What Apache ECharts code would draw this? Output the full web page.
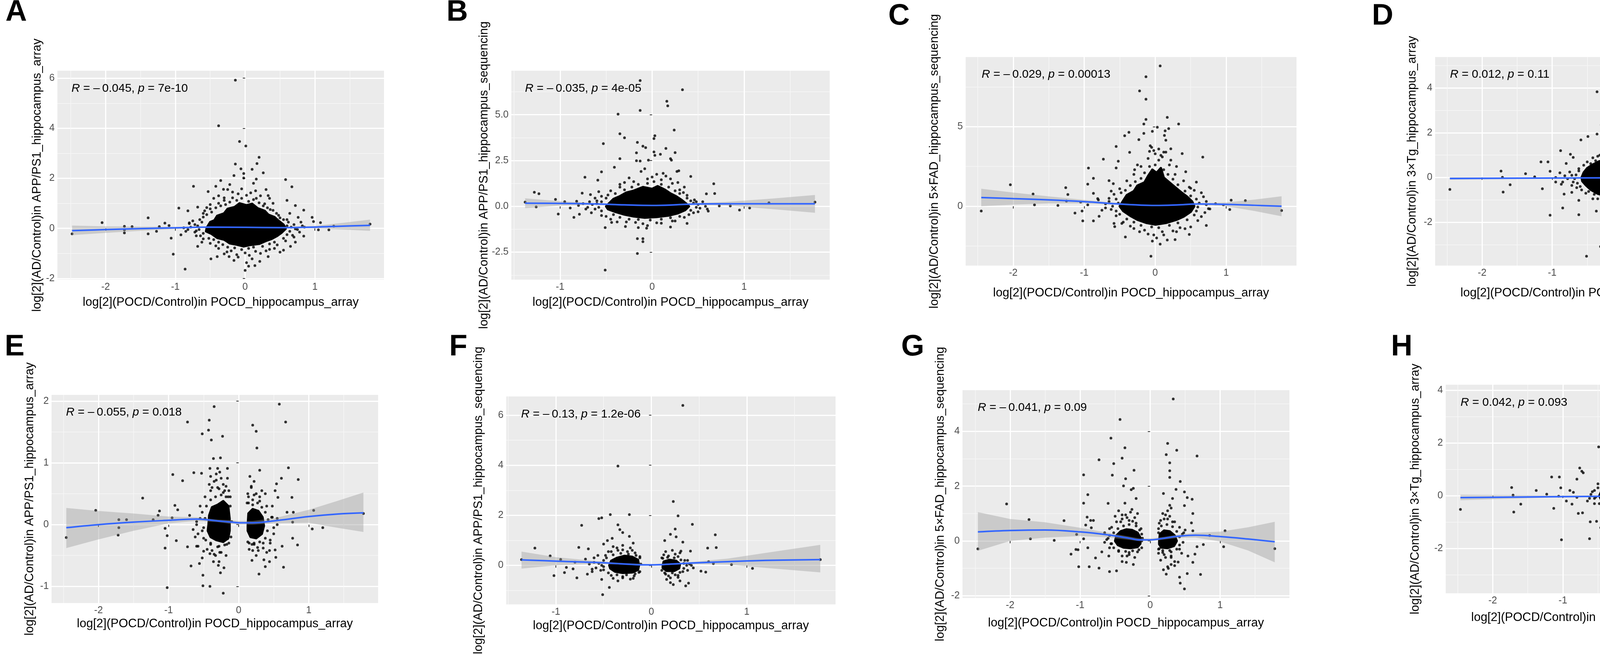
<!DOCTYPE html>
<html>
<head>
<meta charset="utf-8">
<script src="https://cdn.jsdelivr.net/npm/echarts@6/dist/echarts.min.js"></script>
<style>
  html, body { margin: 0; padding: 0; background: #fff; }
  #chart { width: 4550px; height: 1677px; }
</style>
</head>
<body>
<div id="chart"></div>
<script>
// ---- labels ----
const panelLetters = ['A', 'B', 'C', 'D', 'E', 'F', 'G', 'H']
const xTitle = 'log[2](POCD/Control)in POCD_hippocampus_array'
const yTitles = [
  'log[2](AD/Control)in APP/PS1_hippocampus_array',
  'log[2](AD/Control)in APP/PS1_hippocampus_sequencing',
  'log[2](AD/Control)in 5×FAD_hippocampus_sequencing',
  'log[2](AD/Control)in 3×Tg_hippocampus_array',
  'log[2](AD/Control)in APP/PS1_hippocampus_array',
  'log[2](AD/Control)in APP/PS1_hippocampus_sequencing',
  'log[2](AD/Control)in 5×FAD_hippocampus_sequencing',
  'log[2](AD/Control)in 3×Tg_hippocampus_array'
]
const statR = ['\u2013\u20090.045', '\u2013\u20090.035', '\u2013\u20090.029', '0.012', '\u2013\u20090.055', '\u2013\u20090.13', '\u2013\u20090.041', '0.042']
const statP = ['7e-10', '4e-05', '0.00013', '0.11', '0.018', '1.2e-06', '0.09', '0.093']

// ---- tick values ----
const xTicksWide = [-2, -1, 0, 1]
const xMinorWide = [-2.5, -1.5, -0.5, 0.5, 1.5]
const xTicksNarrow = [-1, 0, 1]
const xMinorNarrow = [-1.5, -0.5, 0.5, 1.5]
const yTicksA = [-2, 0, 2, 4, 6]
const yMinorA = [-1, 1, 3, 5]
const yTicksB = [-2.5, 0, 2.5, 5]
const yMinorB = [-3.75, -1.25, 1.25, 3.75, 6.25]
const yTicksC = [0, 5]
const yMinorC = [-2.5, 2.5, 7.5]
const yTicksD = [-2, 0, 2, 4]
const yMinorD = [-3, -1, 1, 3, 5]
const yTicksE = [-1, 0, 1, 2]
const yMinorE = [-0.5, 0.5, 1.5]
const yTicksF = [0, 2, 4, 6]
const yMinorF = [-1, 1, 3, 5]
const yTicksG = [-2, 0, 2, 4]
const yMinorG = [-1, 1, 3, 5]
const yTicksH = [-2, 0, 2, 4]
const yMinorH = [-3, -1, 1, 3]

// ---- A ----
const pointsA = [
  [-0.14, 5.92], [-0.38, 4.10], [-0.08, 3.47], [0.01, 3.29], [0.20, 2.84], [-0.14, 2.57], [0.17, 2.59], [-0.06, 2.38],
  [0.10, 2.36], [0.26, 2.22], [-0.16, 2.11], [-0.02, 2.19], [-0.02, 2.01], [0.58, 1.95], [-0.35, 1.91], [0.16, 1.97],
  [0.67, 1.66], [-0.74, 1.68], [-0.42, 1.68], [-0.53, 1.47], [-0.31, 1.56], [0.33, 1.31], [0.60, 1.12], [0.72, 0.91],
  [-0.95, 0.81], [-0.82, 0.70], [-0.68, 0.85], [-0.55, 0.83], [0.84, 0.73], [0.64, 0.60], [0.76, 0.44], [-1.39, 0.42],
  [0.96, 0.44], [-2.05, 0.23], [-1.15, 0.21], [-1.09, 0.11], [-1.23, 0.07], [1.08, 0.23], [0.98, 0.27], [1.27, 0.09],
  [1.79, 0.17], [-1.73, 0.08], [-1.62, 0.07], [-1.73, -0.18], [-1.73, -0.06], [-2.48, -0.22], [-1.39, -0.22], [-1.27, -0.12],
  [-1.06, -0.39], [1.05, -0.06], [1.20, -0.06], [0.84, -0.31], [-1.03, -1.03], [-0.86, -1.63], [-0.49, -1.22], [-0.68, -0.72],
  [0.65, -0.72], [0.55, -0.87], [0.33, -1.13], [0.21, -1.32], [0.05, -1.51], [0.14, -1.49], [0.00, -1.68], [0.02, -1.37],
  [-0.16, -1.28], [-0.40, -1.13], [-0.23, -1.13], [-0.92, -0.26], [-0.88, 0.02], [-0.80, 0.19], [0.72, -0.55],
  [-0.72, 0.15], [-0.70, -0.10], [-0.65, 0.35], [-0.60, 0.60], [-0.50, 0.78], [-0.38, 1.00], [-0.30, 1.22], [-0.18, 1.45],
  [-0.05, 1.58], [0.08, 1.42], [0.16, 1.20], [0.28, 0.98], [0.36, 0.75], [0.48, 0.52], [0.60, 0.35], [0.70, 0.15],
  [0.75, -0.05], [0.68, -0.28], [0.58, -0.50], [0.46, -0.66], [0.35, -0.84], [0.22, -1.00], [0.06, -1.08], [-0.12, -1.05],
  [-0.26, -0.94], [-0.38, -0.80], [-0.50, -0.60], [-0.60, -0.42], [-0.70, -0.30], [-0.78, 0.05], [-0.45, 1.20], [0.30, 1.55],
  [-0.22, 1.75], [0.12, 1.80], [-0.62, -0.55], [0.50, -0.95], [-0.30, -1.02], [0.82, 0.10], [-0.85, -0.12], [0.10, -1.22]
]
const haloA = [
  [-0.42, 0.82], [-0.35, 0.90], [-0.28, 0.95], [-0.22, 1.05], [-0.30, 1.12], [-0.12, 1.12], [-0.18, 1.22], [-0.05, 1.20],
  [0.05, 1.08], [0.12, 1.15], [0.20, 1.02], [0.26, 0.90], [0.32, 0.82], [0.02, 1.32], [-0.10, 1.38], [0.22, 1.30],
  [-0.38, 1.30], [0.40, 1.00], [-0.50, 0.95], [0.15, 1.50], [-0.25, 1.55], [0.35, 1.20],
  [-0.60, 0.45], [-0.55, 0.55], [-0.62, 0.25], [-0.68, 0.10], [-0.66, -0.05], [-0.60, -0.20], [-0.64, -0.30], [-0.75, 0.30],
  [-0.80, 0.22], [-0.72, -0.15], [-0.82, -0.05], [-0.58, 0.70], [-0.48, 0.65],
  [0.50, 0.42], [0.55, 0.35], [0.62, 0.25], [0.60, 0.10], [0.66, 0.05], [0.72, -0.02], [0.64, -0.12], [0.60, -0.25],
  [0.55, -0.40], [0.70, -0.35], [0.80, 0.25], [0.78, -0.15], [0.45, 0.60], [0.40, 0.72], [0.85, 0.05],
  [-0.45, -0.45], [-0.38, -0.55], [-0.32, -0.65], [-0.25, -0.75], [-0.15, -0.78], [-0.05, -0.85], [0.05, -0.80], [0.12, -0.75],
  [0.25, -0.72], [0.35, -0.62], [0.42, -0.55], [-0.20, -0.90], [0.00, -0.98], [0.15, -0.92], [0.30, -0.90], [-0.42, -0.70],
  [-0.10, -1.15], [0.42, -0.80], [-0.52, -0.40]
]
const coreA = [[
  [-0.55, 0.02], [-0.5, 0.25], [-0.44, 0.32], [-0.4, 0.5], [-0.3, 0.6], [-0.25, 0.78], [-0.15, 0.85], [-0.08, 1.0], [0.02, 0.92],
  [0.1, 0.98], [0.18, 0.8], [0.28, 0.7], [0.33, 0.55], [0.42, 0.45], [0.48, 0.3], [0.55, 0.15], [0.58, -0.02], [0.52, -0.18],
  [0.46, -0.3], [0.38, -0.42], [0.3, -0.5], [0.2, -0.62], [0.08, -0.66], [-0.02, -0.72], [-0.12, -0.65], [-0.22, -0.6],
  [-0.3, -0.45], [-0.4, -0.38], [-0.48, -0.22], [-0.56, -0.12]
]]
const fitA = [[-2.48, -0.09], [-2.0, -0.05], [-1.5, -0.01], [-1.0, 0.02], [-0.5, 0.05], [0, 0.04], [0.5, 0.03], [1.0, 0.05], [1.4, 0.09], [1.79, 0.12]]
const ciA = [[-2.48, -0.27, 0.11], [-2.0, -0.18, 0.08], [-1.5, -0.1, 0.07], [-1.0, -0.02, 0.06], [-0.5, 0.03, 0.07], [0, 0.02, 0.06],
  [0.5, 0.01, 0.05], [1.0, 0.0, 0.1], [1.4, -0.05, 0.22], [1.79, -0.1, 0.35]]

// ---- B ----
const pointsB = [
  [-0.13, 6.86], [0.33, 6.36], [0.16, 5.73], [0.17, 5.48], [-0.13, 5.23], [-0.37, 5.03], [0.24, 4.16], [-0.35, 3.96],
  [-0.30, 3.74], [0.03, 3.85], [0.02, 3.70], [-0.53, 3.42], [-0.16, 3.49], [-0.10, 3.28], [-0.07, 3.20], [0.15, 3.16],
  [0.02, 2.97], [0.25, 2.93], [-0.17, 2.92], [-0.35, 2.60], [0.20, 2.60], [-0.04, 2.52], [-0.17, 2.49], [-0.13, 2.47],
  [0.09, 2.84], [0.03, 2.78], [0.21, 2.52], [-0.41, 2.13], [-0.55, 1.88], [0.29, 1.94], [0.27, 1.90], [0.42, 1.63],
  [-0.73, 1.59], [-0.59, 1.43], [0.67, 1.23], [-1.28, 0.77], [-1.23, 0.69], [0.59, 0.68], [0.68, 0.70], [-0.76, 0.72],
  [-0.67, 0.64], [-1.05, 0.38], [-1.38, 0.23], [1.77, 0.23], [1.27, 0.19], [-0.95, 0.25], [-0.82, 0.28], [-1.26, -0.03],
  [-1.02, -0.42], [-0.89, -0.09], [-0.85, -0.60], [-0.79, -0.43], [0.85, 0.02], [0.95, -0.20], [1.06, -0.09], [0.73, 0.02],
  [0.61, -0.26], [0.48, 0.25], [-0.51, -1.16], [-0.44, -0.88], [-0.15, -1.16], [-0.06, -1.19], [0.20, -1.13], [-0.29, -1.10],
  [-0.16, -1.76], [-0.10, -1.76], [-0.10, -1.93], [-0.16, -2.57], [-0.51, -3.48], [0.38, -0.93],
  [-0.65, 0.10], [-0.62, -0.15], [-0.60, 0.30], [-0.55, 0.55], [-0.45, 0.85], [-0.35, 1.05], [-0.20, 1.35], [-0.05, 1.50],
  [0.10, 1.45], [0.22, 1.25], [0.30, 0.90], [0.38, 0.60], [0.46, 0.35], [0.50, 0.10], [0.52, -0.10], [0.45, -0.35],
  [0.35, -0.60], [0.25, -0.80], [0.10, -0.92], [-0.10, -0.95], [-0.28, -0.85], [-0.45, -0.70], [-0.55, -0.50], [-0.70, -0.05],
  [-0.75, 0.15], [-0.30, 1.30], [0.05, 1.75], [-0.12, 1.90], [0.15, 1.65], [-0.58, 0.80]
]
const haloB = [
  [-0.30, 0.90], [-0.22, 1.05], [-0.15, 1.20], [-0.05, 1.25], [0.02, 1.35], [0.10, 1.20], [0.18, 1.05], [0.25, 0.85],
  [0.30, 0.70], [-0.40, 0.70], [-0.35, 1.20], [0.00, 1.60], [0.12, 1.80], [-0.08, 2.05], [0.28, 1.30], [-0.25, 1.55],
  [0.20, 1.50], [0.35, 1.05],
  [-0.55, 0.25], [-0.60, 0.15], [-0.58, -0.05], [-0.55, -0.25], [-0.68, 0.25], [-0.72, -0.15], [-0.50, 0.45], [-0.62, 0.45],
  [-0.80, 0.05], [-0.66, -0.35], [-0.48, 0.62],
  [0.42, 0.30], [0.45, 0.18], [0.48, -0.05], [0.42, -0.22], [0.38, 0.45], [0.55, 0.25], [0.58, 0.00], [0.50, -0.30],
  [0.40, -0.45], [0.60, -0.15], [0.34, 0.75],
  [-0.42, -0.45], [-0.35, -0.60], [-0.25, -0.70], [-0.15, -0.72], [-0.02, -0.75], [0.10, -0.70], [0.20, -0.62], [0.30, -0.55],
  [-0.50, -0.55], [-0.18, -0.88], [0.05, -0.90], [0.22, -0.80], [-0.38, -0.85], [-0.05, -1.05]
]
const coreB = [[
  [-0.5, 0.0], [-0.46, 0.2], [-0.42, 0.4], [-0.35, 0.55], [-0.28, 0.75], [-0.2, 0.85], [-0.1, 1.05], [0.0, 0.95], [0.06, 1.1],
  [0.14, 0.9], [0.2, 0.7], [0.26, 0.55], [0.32, 0.35], [0.37, 0.15], [0.4, 0.0], [0.36, -0.2], [0.28, -0.38], [0.18, -0.5],
  [0.05, -0.58], [-0.08, -0.62], [-0.2, -0.55], [-0.3, -0.45], [-0.4, -0.3], [-0.48, -0.15]
]]
const fitB = [[-1.38, 0.17], [-1.0, 0.16], [-0.6, 0.13], [-0.3, 0.08], [0, 0.05], [0.2, 0.07], [0.4, 0.12], [0.8, 0.14], [1.3, 0.14], [1.77, 0.14]]
const ciB = [[-1.38, -0.1, 0.44], [-1.0, 0.04, 0.28], [-0.6, 0.09, 0.17], [-0.3, 0.05, 0.11], [0, 0.02, 0.08], [0.2, 0.04, 0.1],
  [0.4, 0.08, 0.16], [0.8, 0.05, 0.24], [1.3, -0.15, 0.42], [1.77, -0.35, 0.62]]

// ---- C ----
const pointsC = [
  [0.07, 8.82], [-0.13, 8.14], [-0.22, 7.25], [-0.13, 6.73], [0.17, 5.59], [-0.13, 5.46], [0.33, 5.17], [-0.16, 5.17],
  [0.03, 4.97], [0.19, 4.88], [0.14, 4.74], [-0.37, 4.65], [-0.16, 4.58], [-0.04, 4.71], [-0.43, 4.43], [0.13, 4.45],
  [-0.23, 4.19], [0.15, 4.15], [-0.55, 3.76], [-0.07, 3.80], [0.22, 3.61], [-0.36, 3.39], [0.38, 3.31], [0.67, 3.09],
  [-0.73, 2.96], [-0.52, 2.83], [-0.94, 2.40], [-0.55, 2.41], [0.43, 2.17], [-0.29, 2.30], [-0.87, 1.76], [-0.95, 1.39],
  [-0.65, 1.61], [-0.59, 1.42], [-2.04, 1.35], [0.58, 1.52], [0.50, 1.13], [-1.26, 1.17], [-1.72, 0.77], [-1.23, 0.74],
  [-0.87, 0.81], [-0.81, 0.48], [-1.25, 0.33], [-1.05, 0.26], [-0.95, 0.09], [-1.70, 0.09], [-1.37, 0.05], [-2.45, -0.30],
  [1.07, 0.38], [1.27, 0.35], [0.85, 0.16], [0.96, 0.09], [1.05, -0.21], [1.78, -0.27], [0.77, -0.17], [-1.13, -0.43],
  [-1.03, -0.30], [-1.02, -0.92], [-0.87, -0.92], [-0.79, -0.63], [-0.58, -1.08], [-0.47, -1.08], [-0.57, -1.28], [0.72, -1.21],
  [0.42, -1.41], [0.48, -1.77], [-0.42, -1.93], [-0.22, -1.60], [-0.04, -2.19], [0.07, -2.38], [0.17, -2.12], [0.28, -2.10],
  [0.02, -1.99], [-0.06, -3.14],
  [-0.65, 0.30], [-0.62, -0.20], [-0.58, 0.75], [-0.50, 1.10], [-0.40, 1.60], [-0.30, 2.00], [-0.20, 2.50], [-0.10, 3.00],
  [0.00, 3.30], [0.10, 3.10], [0.20, 2.60], [0.28, 2.00], [0.40, 1.60], [0.55, 1.00], [0.68, 0.60], [0.72, 0.10],
  [0.70, -0.40], [0.60, -0.90], [0.50, -1.30], [0.30, -1.60], [0.12, -1.80], [-0.10, -1.75], [-0.30, -1.40], [-0.45, -1.00],
  [-0.55, -0.60], [-0.70, -0.10], [0.05, 3.60], [-0.02, 3.50], [-0.08, 3.45], [0.12, 3.40]
]
const haloC = [
  [-0.20, 1.75], [-0.15, 2.10], [-0.08, 2.50], [0.00, 2.60], [0.05, 2.90], [0.12, 2.30], [0.18, 2.00], [0.25, 1.70],
  [0.32, 1.35], [-0.28, 1.55], [-0.35, 1.30], [-0.42, 1.00], [0.08, 3.20], [-0.05, 3.70], [0.15, 3.40], [0.30, 2.50],
  [-0.25, 2.60], [0.22, 2.90],
  [-0.55, 0.45], [-0.52, 0.20], [-0.60, 0.00], [-0.55, -0.30], [-0.50, -0.50], [-0.65, 0.50], [-0.70, 0.15], [-0.75, -0.25],
  [-0.48, 0.85], [-0.62, 0.95], [-0.80, 0.40],
  [0.50, 0.65], [0.58, 0.45], [0.62, 0.20], [0.60, -0.05], [0.58, -0.30], [0.55, -0.55], [0.42, 0.95], [0.65, 0.85],
  [0.72, 0.30], [0.75, -0.15], [0.65, -0.65], [0.48, 1.20],
  [-0.40, -0.80], [-0.30, -1.00], [-0.20, -1.20], [-0.05, -1.30], [0.05, -1.35], [0.20, -1.20], [0.32, -1.05], [0.45, -0.85],
  [-0.15, -1.50], [0.10, -1.60], [0.35, -1.35], [-0.35, -1.25], [0.25, -1.55], [-0.02, -1.80]
]
const coreC = [[
  [-0.5, 0.0], [-0.45, 0.35], [-0.4, 0.7], [-0.3, 0.95], [-0.25, 1.3], [-0.15, 1.5], [-0.1, 1.9], [-0.04, 2.3], [0.02, 2.1],
  [0.08, 2.4], [0.12, 1.8], [0.2, 1.5], [0.28, 1.2], [0.36, 0.9], [0.45, 0.6], [0.52, 0.3], [0.55, 0.0], [0.5, -0.35],
  [0.4, -0.65], [0.3, -0.85], [0.15, -1.05], [0.0, -1.15], [-0.12, -1.05], [-0.25, -0.85], [-0.35, -0.6], [-0.45, -0.3]
]]
const fitC = [[-2.45, 0.55], [-2.0, 0.48], [-1.5, 0.40], [-1.0, 0.29], [-0.5, 0.14], [-0.2, 0.07], [0, 0.05], [0.3, 0.08],
  [0.6, 0.14], [1.0, 0.12], [1.4, 0.06], [1.78, 0.0]]
const ciC = [[-2.45, 0.0, 1.1], [-2.0, 0.1, 0.86], [-1.5, 0.18, 0.62], [-1.0, 0.18, 0.4], [-0.5, 0.09, 0.19], [-0.2, 0.04, 0.1],
  [0, 0.02, 0.08], [0.3, 0.05, 0.11], [0.6, 0.09, 0.19], [1.0, 0.0, 0.24], [1.4, -0.3, 0.42], [1.78, -0.63, 0.63]]

// ---- D ----
const pointsD = [
  [0.10, 4.97], [-0.36, 3.83], [0.10, 3.79], [-0.23, 3.60], [0.12, 3.17], [0.11, 2.64], [-0.29, 2.59], [-0.30, 2.35],
  [-0.19, 2.47], [-0.10, 2.41], [0.06, 2.29], [0.00, 2.18], [-0.10, 2.18], [-0.14, 2.04], [0.12, 1.99], [-0.36, 1.94],
  [-0.25, 1.83], [-0.49, 1.83], [-0.14, 1.74], [-0.59, 1.68], [-0.06, 1.64], [-0.24, 1.55], [-0.88, 1.20], [0.50, 1.26],
  [-0.74, 1.04], [-0.70, 0.90], [-1.16, 0.70], [-1.06, 0.70], [-0.80, 0.63], [0.95, 0.61], [0.69, 0.56], [0.76, 0.61],
  [0.98, 0.42], [-1.73, 0.29], [-1.03, 0.28], [-1.38, 0.17], [-1.25, 0.03], [-1.71, 0.01], [-0.89, 0.21], [-0.95, 0.00],
  [1.07, 0.17], [1.28, 0.10], [-1.60, -0.32], [-0.95, -0.20], [-0.87, -0.30], [-2.46, -0.53], [-1.14, -0.50], [-1.70, -0.65],
  [1.78, -0.31], [0.84, -0.62], [0.73, -0.71], [1.05, -0.87], [-0.83, -0.74], [-0.72, -0.66], [-0.62, -1.02], [-1.03, -1.68],
  [-0.85, -1.36], [-0.62, -1.66], [-0.37, -1.50], [-0.27, -1.77], [-0.11, -1.77], [0.01, -1.82], [0.10, -1.85], [0.38, -1.62],
  [0.28, -2.00], [-0.02, -2.17], [-0.15, -2.30], [0.09, -2.33], [-0.02, -2.72], [-0.07, -2.86], [-0.31, -3.08], [-0.19, -3.32],
  [-0.09, -3.37], [-0.51, -3.51], [0.18, -1.31],
  [-0.72, 0.10], [-0.70, -0.20], [-0.62, 0.40], [-0.50, 0.70], [-0.35, 0.95], [-0.15, 1.10], [0.05, 1.15], [0.25, 1.00],
  [0.40, 0.75], [0.52, 0.50], [0.60, 0.20], [0.62, -0.10], [0.55, -0.50], [0.45, -0.80], [0.30, -1.00], [0.10, -1.10],
  [-0.12, -1.12], [-0.35, -0.95], [-0.52, -0.70], [-0.65, -0.45], [-0.78, -0.05], [0.70, 0.30], [0.68, -0.35], [-0.05, 1.30],
  [0.15, 1.35], [-0.25, 1.25], [0.05, -1.35], [-0.20, -1.30]
]
const haloD = [
  [-0.45, 0.62], [-0.38, 0.75], [-0.28, 0.82], [-0.18, 0.90], [-0.05, 0.95], [0.08, 0.92], [0.18, 0.85], [0.28, 0.72],
  [0.36, 0.60], [-0.10, 1.05], [0.12, 1.05], [0.30, 0.90], [-0.32, 1.00], [0.00, 1.25], [0.22, 1.20], [-0.42, 0.88],
  [-0.62, 0.30], [-0.66, 0.12], [-0.68, -0.05], [-0.64, -0.25], [-0.60, -0.40], [-0.75, 0.25], [-0.72, -0.35], [-0.82, 0.08],
  [-0.55, 0.55], [-0.58, -0.55], [-0.85, -0.20],
  [0.48, 0.38], [0.52, 0.22], [0.55, 0.05], [0.54, -0.15], [0.50, -0.35], [0.45, -0.55], [0.62, 0.35], [0.66, 0.00],
  [0.64, -0.25], [0.72, 0.15], [0.58, 0.55], [0.60, -0.50], [0.76, -0.10],
  [-0.48, -0.62], [-0.40, -0.75], [-0.30, -0.85], [-0.18, -0.92], [-0.05, -0.95], [0.08, -0.92], [0.20, -0.85], [0.32, -0.72],
  [0.40, -0.65], [-0.25, -1.05], [0.00, -1.15], [0.25, -1.00], [-0.42, -0.95], [0.12, -1.25], [0.42, -0.90]
]
const coreD = [[
  [-0.58, 0.0], [-0.55, 0.22], [-0.5, 0.42], [-0.42, 0.58], [-0.33, 0.72], [-0.22, 0.8], [-0.12, 0.9], [0.0, 0.92], [0.1, 0.88],
  [0.2, 0.78], [0.3, 0.62], [0.38, 0.42], [0.43, 0.2], [0.46, 0.0], [0.44, -0.22], [0.38, -0.46], [0.3, -0.64], [0.18, -0.8],
  [0.05, -0.88], [-0.1, -0.9], [-0.22, -0.84], [-0.35, -0.72], [-0.45, -0.54], [-0.52, -0.34], [-0.57, -0.16]
]]
const fitD = [[-2.46, -0.04], [-1.2, -0.025], [0, -0.01], [1.78, 0.02]]
const ciD = [[-2.46, -0.1, 0.02], [-1.2, -0.05, 0.0], [0, -0.02, 0.0], [1.78, -0.03, 0.07]]

// ---- E ----
const pointsE = [
  [-0.35, 1.91], [0.58, 1.95], [-0.42, 1.69], [-0.73, 1.66], [0.67, 1.66], [0.20, 1.61], [-0.43, 1.53], [0.25, 1.51],
  [-0.52, 1.47], [-0.23, 1.43], [-0.39, 1.37], [0.26, 1.24], [-0.26, 1.08], [-0.36, 1.07], [0.71, 0.92], [-0.41, 0.91],
  [-0.30, 0.91], [-0.16, 0.91], [0.30, 0.88], [-0.94, 0.81], [-0.64, 0.84], [-0.53, 0.83], [0.16, 0.78], [0.61, 0.75],
  [0.85, 0.73], [-0.80, 0.71], [0.54, 0.66], [0.52, 0.55], [-1.37, 0.43], [0.56, 0.44], [0.76, 0.44], [-0.91, 0.31],
  [-0.87, 0.24], [-2.04, 0.23], [-1.13, 0.22], [1.07, 0.23], [-1.15, 0.15], [1.78, 0.18], [0.69, 0.20], [0.78, 0.20],
  [-1.71, 0.08], [-1.60, 0.08], [-1.22, 0.08], [-0.95, 0.11], [0.77, 0.04], [-1.71, -0.05], [-1.05, -0.06], [1.05, -0.07],
  [1.20, -0.05], [-2.46, -0.21], [-1.72, -0.17], [-1.02, -0.18], [-0.89, -0.26], [0.77, -0.22], [0.84, -0.33], [-1.05, -0.38],
  [-0.73, -0.36], [-0.60, -0.35], [0.62, -0.35], [0.52, -0.41], [0.44, -0.42], [-0.50, -0.43], [-0.52, -0.54], [0.53, -0.53],
  [0.19, -0.58], [0.36, -0.57], [0.44, -0.60], [-0.36, -0.60], [-0.68, -0.67], [-0.56, -0.63], [-0.29, -0.66], [0.38, -0.68],
  [0.64, -0.69], [-0.21, -0.70], [-0.26, -0.78], [-0.51, -0.82], [0.29, -0.80], [-1.02, -1.02], [-0.51, -0.99], [-0.41, -1.00],
  [-0.22, -1.11], [-0.41, -0.47], [-0.33, -0.50], [0.19, -0.32], [0.27, -0.37], [-0.16, -0.23],
  [-0.52, 0.20], [-0.50, -0.05], [-0.48, 0.45], [-0.40, 0.55], [-0.30, 0.60], [-0.22, 0.52], [-0.15, 0.45], [-0.12, 0.30],
  [-0.10, 0.05], [-0.11, -0.20], [-0.17, -0.32], [-0.28, -0.35], [-0.40, -0.30], [-0.50, -0.22], [-0.55, 0.10], [-0.35, 0.70],
  [-0.25, 0.75], [-0.42, 0.65], [-0.18, 0.62], [-0.60, 0.00], [-0.58, -0.15], [-0.27, -0.45], [-0.38, -0.42], [-0.32, 0.82],
  [0.12, 0.35], [0.20, 0.40], [0.30, 0.38], [0.40, 0.30], [0.47, 0.12], [0.50, -0.05], [0.45, -0.25], [0.35, -0.30],
  [0.22, -0.32], [0.13, -0.28], [0.14, 0.45], [0.25, 0.50], [0.33, 0.55], [0.18, 0.60], [0.55, 0.10], [0.28, -0.42],
  [0.15, -0.40], [0.22, 0.70], [0.40, -0.45]
]
const haloE = [
  [-0.46, 0.30], [-0.40, 0.40], [-0.33, 0.45], [-0.25, 0.48], [-0.18, 0.45], [-0.14, 0.55], [-0.28, 0.58], [-0.38, 0.60],
  [-0.22, 0.65], [-0.32, 0.72], [-0.16, 0.75], [-0.27, 0.85], [-0.40, 0.78], [-0.20, 0.55], [-0.48, 0.10], [-0.52, -0.10],
  [-0.47, -0.25], [-0.40, -0.32], [-0.30, -0.36], [-0.20, -0.33], [-0.14, -0.30], [-0.25, -0.45], [-0.35, -0.48], [-0.18, -0.50],
  [-0.45, -0.40], [-0.60, 0.05], [-0.62, -0.20], [-0.55, 0.30], [-0.58, -0.35], [-0.65, -0.08], [-0.70, 0.15], [-0.28, -0.60],
  [-0.12, 0.45],
  [0.14, 0.35], [0.20, 0.32], [0.27, 0.35], [0.33, 0.28], [0.38, 0.20], [0.42, 0.08], [0.41, -0.10], [0.38, -0.22],
  [0.30, -0.28], [0.22, -0.30], [0.15, -0.30], [0.13, 0.50], [0.22, 0.48], [0.30, 0.45], [0.18, 0.62], [0.48, 0.12],
  [0.50, -0.15], [0.45, -0.30], [0.35, -0.38], [0.20, -0.42], [0.55, 0.00], [0.48, 0.30], [0.25, -0.50], [0.38, 0.50]
]
const coreE = [
  [[-0.43, 0.0], [-0.42, 0.15], [-0.38, 0.28], [-0.3, 0.32], [-0.22, 0.38], [-0.15, 0.3], [-0.13, 0.1], [-0.13, -0.1],
    [-0.15, -0.22], [-0.22, -0.28], [-0.32, -0.25], [-0.4, -0.2], [-0.44, -0.1]],
  [[0.13, 0.0], [0.14, 0.18], [0.2, 0.25], [0.28, 0.22], [0.34, 0.12], [0.36, -0.02], [0.33, -0.15], [0.25, -0.22], [0.17, -0.2], [0.13, -0.1]]
]
const fitE = [[-2.46, -0.05], [-2.0, 0.0], [-1.5, 0.04], [-1.0, 0.07], [-0.6, 0.09], [-0.3, 0.06], [-0.1, 0.04], [0, 0.03],
  [0.2, 0.03], [0.5, 0.06], [1.0, 0.13], [1.4, 0.17], [1.78, 0.19]]
const ciE = [[-2.46, -0.38, 0.27], [-2.0, -0.24, 0.22], [-1.5, -0.1, 0.18], [-1.0, 0.02, 0.13], [-0.6, 0.06, 0.12], [-0.3, 0.04, 0.08],
  [-0.1, 0.01, 0.07], [0, 0.0, 0.06], [0.2, 0.0, 0.06], [0.5, 0.02, 0.1], [1.0, 0.03, 0.24], [1.4, -0.05, 0.38], [1.78, -0.12, 0.52]]

// ---- F ----
const pointsF = [
  [0.33, 6.39], [-0.35, 3.97], [0.23, 2.55], [-0.43, 2.03], [-0.23, 2.03], [0.28, 1.98], [-0.55, 1.87], [-0.52, 1.90],
  [-0.35, 1.62], [0.43, 1.64], [-0.73, 1.60], [-0.33, 1.43], [0.25, 1.45], [-0.30, 1.31], [0.67, 1.22], [0.20, 1.24],
  [0.26, 1.14], [-0.23, 1.16], [-0.41, 1.08], [-0.46, 0.99], [0.14, 0.99], [0.33, 0.93], [-1.22, 0.69], [-0.76, 0.72],
  [0.59, 0.69], [0.68, 0.71], [-0.66, 0.66], [-0.50, 0.85], [-0.19, 0.89], [-1.06, 0.38], [-0.95, 0.24], [0.41, 0.57],
  [0.31, 0.57], [-1.36, 0.23], [1.77, 0.23], [-0.69, 0.25], [-0.80, 0.13], [0.60, 0.15], [0.65, 0.07], [0.84, 0.03],
  [-0.89, -0.08], [1.06, -0.12], [0.44, -0.10], [0.52, -0.23], [0.57, -0.27], [-0.91, -0.29], [-1.02, -0.41], [-0.82, -0.14],
  [-0.78, -0.50], [-0.67, -0.35], [-0.62, -0.25], [-0.52, -0.56], [-0.35, -0.62], [-0.44, -0.88], [-0.51, -1.17], [-0.19, -0.52],
  [0.16, -0.56], [0.23, -0.77], [0.36, -0.82], [0.39, -0.71], [0.30, -0.62], [0.20, -0.69],
  [-0.50, 0.20], [-0.50, -0.05], [-0.48, 0.40], [-0.42, 0.55], [-0.35, 0.60], [-0.25, 0.55], [-0.17, 0.50], [-0.12, 0.35],
  [-0.11, 0.05], [-0.12, -0.25], [-0.18, -0.42], [-0.30, -0.45], [-0.42, -0.40], [-0.53, -0.20], [-0.55, 0.08], [-0.40, 0.75],
  [-0.30, 0.80], [-0.60, 0.30], [-0.58, -0.10], [-0.22, 0.70],
  [0.11, 0.30], [0.18, 0.38], [0.28, 0.35], [0.35, 0.20], [0.37, 0.00], [0.33, -0.25], [0.25, -0.38], [0.15, -0.35],
  [0.11, -0.20], [0.15, 0.55], [0.22, 0.60], [0.30, 0.50], [0.40, 0.05], [0.20, -0.50], [0.28, -0.48]
]
const haloF = [
  [-0.47, 0.30], [-0.40, 0.42], [-0.32, 0.48], [-0.24, 0.45], [-0.16, 0.40], [-0.45, 0.55], [-0.30, 0.62], [-0.20, 0.60],
  [-0.36, 0.70], [-0.52, 0.00], [-0.50, -0.18], [-0.45, -0.30], [-0.36, -0.38], [-0.26, -0.38], [-0.17, -0.34], [-0.13, -0.28],
  [-0.30, -0.50], [-0.40, -0.52], [-0.22, -0.55], [-0.60, 0.12], [-0.62, -0.15], [-0.56, 0.40], [-0.65, 0.05], [-0.12, 0.30],
  [0.12, 0.28], [0.17, 0.32], [0.24, 0.30], [0.31, 0.22], [0.34, 0.08], [0.34, -0.12], [0.30, -0.28], [0.22, -0.30],
  [0.14, -0.30], [0.13, 0.42], [0.25, 0.45], [0.18, -0.42], [0.38, 0.20], [0.38, -0.20], [0.42, 0.00], [0.28, -0.40]
]
const coreF = [
  [[-0.44, 0.0], [-0.42, 0.18], [-0.36, 0.3], [-0.28, 0.38], [-0.2, 0.34], [-0.14, 0.22], [-0.13, 0.0], [-0.14, -0.18],
    [-0.2, -0.28], [-0.3, -0.3], [-0.38, -0.25], [-0.43, -0.12]],
  [[0.12, 0.0], [0.13, 0.15], [0.19, 0.22], [0.26, 0.18], [0.3, 0.05], [0.29, -0.12], [0.24, -0.22], [0.16, -0.22], [0.12, -0.1]]
]
const fitF = [[-1.36, 0.22], [-1.0, 0.17], [-0.6, 0.12], [-0.3, 0.06], [-0.1, 0.02], [0, 0.02], [0.2, 0.05], [0.4, 0.09],
  [0.8, 0.15], [1.2, 0.2], [1.77, 0.23]]
const ciF = [[-1.36, -0.13, 0.55], [-1.0, 0.0, 0.33], [-0.6, 0.06, 0.18], [-0.3, 0.03, 0.09], [0, -0.01, 0.05], [0.2, 0.02, 0.08],
  [0.4, 0.05, 0.13], [0.8, 0.03, 0.27], [1.2, -0.1, 0.5], [1.77, -0.28, 0.82]]

// ---- G ----
const pointsG = [
  [0.33, 5.18], [-0.43, 4.43], [-0.56, 3.75], [0.25, 3.56], [-0.36, 3.40], [0.38, 3.31], [0.23, 3.15], [0.67, 3.10],
  [-0.40, 3.02], [-0.73, 2.96], [0.28, 2.85], [-0.52, 2.82], [-0.23, 2.58], [0.28, 2.56], [-0.95, 2.41], [-0.54, 2.40],
  [0.28, 2.32], [-0.35, 2.27], [0.43, 2.17], [-0.38, 2.01], [0.37, 1.88], [-0.27, 1.87], [-0.24, 1.92], [0.49, 1.79],
  [0.19, 1.73], [-0.89, 1.69], [-0.20, 1.55], [0.53, 1.58], [0.60, 1.52], [0.32, 1.55], [-2.05, 1.35], [-0.95, 1.38],
  [-0.36, 1.38], [0.49, 1.29], [-0.60, 1.37], [0.61, 1.00], [-0.90, 0.87], [-0.85, 0.75], [-1.73, 0.78], [-1.23, 0.74],
  [-0.81, 0.75], [0.59, 0.66], [-0.92, 0.58], [-0.84, 0.48], [0.61, 0.37], [1.07, 0.37], [0.85, 0.20], [-1.71, 0.08],
  [-1.37, 0.02], [-1.05, 0.24], [-0.95, 0.08], [0.76, -0.13], [0.67, -0.21], [1.05, -0.21], [-2.46, -0.29], [1.78, -0.28],
  [-1.06, -0.31], [-1.03, -0.32], [-1.13, -0.48], [-0.89, -0.25], [-0.69, -0.40], [-0.78, -0.62], [-0.59, -0.55], [0.54, -0.55],
  [0.64, -0.48], [-0.40, -0.75], [-0.34, -0.78], [-0.24, -0.86], [0.40, -0.77], [0.61, -0.78], [-1.02, -0.94], [-0.87, -0.94],
  [-0.73, -0.99], [-0.58, -1.12], [-0.48, -1.09], [0.19, -1.05], [0.23, -1.21], [0.53, -1.19], [0.72, -1.22], [0.42, -1.32],
  [0.43, -1.54], [0.49, -1.75], [0.25, -0.94], [0.30, -0.86],
  [-0.58, 0.20], [-0.56, -0.10], [-0.55, 0.50], [-0.48, 0.70], [-0.40, 0.80], [-0.30, 0.75], [-0.20, 0.65], [-0.13, 0.45],
  [-0.11, 0.10], [-0.12, -0.25], [-0.18, -0.40], [-0.30, -0.42], [-0.45, -0.38], [-0.58, -0.25], [-0.62, 0.05], [-0.35, 0.95],
  [-0.28, 1.05], [-0.45, 1.10], [-0.50, 0.90], [-0.22, 0.85], [-0.65, 0.30], [-0.33, -0.55],
  [0.12, 0.30], [0.13, 0.65], [0.20, 0.80], [0.28, 0.90], [0.35, 0.70], [0.42, 0.50], [0.46, 0.25], [0.47, -0.05],
  [0.42, -0.30], [0.30, -0.40], [0.18, -0.42], [0.12, -0.30], [0.18, 1.00], [0.25, 1.10], [0.30, 1.20], [0.50, 0.40],
  [0.22, -0.60], [0.30, -0.55], [0.15, -0.70], [0.35, -0.75]
]
const haloG = [
  [-0.52, 0.30], [-0.46, 0.45], [-0.38, 0.55], [-0.30, 0.60], [-0.20, 0.55], [-0.15, 0.40], [-0.42, 0.70], [-0.25, 0.72],
  [-0.33, 0.85], [-0.40, 0.95], [-0.18, 1.00], [-0.26, 1.15], [-0.55, -0.10], [-0.52, -0.25], [-0.45, -0.35], [-0.35, -0.38],
  [-0.25, -0.36], [-0.16, -0.32], [-0.30, -0.50], [-0.40, -0.55], [-0.22, -0.60], [-0.60, 0.10], [-0.65, -0.05], [-0.58, 0.45],
  [-0.12, 0.00], [-0.12, 0.25],
  [0.12, 0.45], [0.16, 0.55], [0.24, 0.60], [0.32, 0.52], [0.38, 0.35], [0.42, 0.15], [0.42, -0.15], [0.38, -0.30],
  [0.28, -0.35], [0.18, -0.35], [0.13, -0.28], [0.15, 0.75], [0.25, 0.80], [0.32, 0.70], [0.22, 0.95], [0.28, 1.30],
  [0.20, -0.50], [0.30, -0.60], [0.45, -0.45], [0.48, 0.30], [0.12, -0.45], [0.35, -0.90], [0.26, -1.00]
]
const coreG = [
  [[-0.5, 0.0], [-0.48, 0.2], [-0.42, 0.35], [-0.34, 0.42], [-0.26, 0.4], [-0.18, 0.3], [-0.14, 0.12], [-0.14, -0.1],
    [-0.18, -0.22], [-0.28, -0.26], [-0.38, -0.24], [-0.46, -0.15]],
  [[0.13, 0.0], [0.14, 0.25], [0.2, 0.38], [0.28, 0.35], [0.35, 0.2], [0.38, 0.0], [0.34, -0.18], [0.25, -0.26], [0.16, -0.24], [0.13, -0.12]]
]
const fitG = [[-2.46, 0.33], [-2.0, 0.38], [-1.5, 0.40], [-1.0, 0.33], [-0.6, 0.22], [-0.3, 0.1], [-0.15, 0.04], [0, 0.04],
  [0.2, 0.1], [0.4, 0.17], [0.65, 0.21], [1.0, 0.16], [1.4, 0.07], [1.78, -0.03]]
const ciG = [[-2.46, -0.36, 1.05], [-2.0, 0.0, 0.8], [-1.5, 0.12, 0.68], [-1.0, 0.18, 0.48], [-0.6, 0.13, 0.3], [-0.3, 0.04, 0.16],
  [-0.15, -0.01, 0.09], [0, -0.01, 0.09], [0.2, 0.05, 0.15], [0.4, 0.11, 0.23], [0.65, 0.12, 0.3], [1.0, -0.02, 0.34],
  [1.4, -0.35, 0.5], [1.78, -0.78, 0.7]]

// ---- H ----
const pointsH = [
  [-0.36, 3.83], [-0.22, 3.60], [-0.49, 1.85], [-0.39, 1.19], [0.22, 1.19], [0.33, 1.23], [0.35, 1.13], [-0.76, 1.05],
  [0.40, 0.89], [-0.71, 0.87], [-0.73, 0.93], [-1.16, 0.71], [-1.05, 0.71], [-0.28, 0.94], [0.50, 0.74], [-0.80, 0.63],
  [0.76, 0.57], [-1.73, 0.31], [0.84, 0.38], [-1.03, 0.30], [-1.38, 0.20], [-0.90, 0.20], [-0.85, 0.13], [0.78, 0.20],
  [1.06, 0.18], [-1.23, 0.06], [-1.71, 0.02], [-1.06, -0.02], [-0.80, -0.06], [0.71, -0.04], [0.78, -0.22], [-0.95, -0.20],
  [-0.87, -0.32], [-1.60, -0.32], [1.78, -0.30], [0.60, -0.44], [-2.46, -0.52], [-1.13, -0.48], [-1.70, -0.62], [-0.78, -0.67],
  [-0.72, -0.65], [0.73, -0.71], [0.84, -0.75], [0.71, -0.77], [1.05, -0.85], [-0.61, -0.99], [-0.52, -0.97], [0.19, -1.07],
  [0.35, -1.03], [-0.46, -1.21], [-0.31, -1.07], [-0.22, -1.03], [-0.20, -1.10], [-0.22, -1.33], [-0.20, -1.39], [-1.02, -1.67],
  [-0.62, -1.63], [-0.25, -1.71], [0.24, -1.59], [-0.20, -3.31], [-0.43, -0.67], [-0.31, -0.75], [0.31, -0.75], [0.39, -0.60],
  [-0.55, 0.20], [-0.55, -0.10], [-0.50, 0.45], [-0.42, 0.55], [-0.32, 0.60], [-0.22, 0.55], [-0.14, 0.42], [-0.11, 0.10],
  [-0.12, -0.30], [-0.18, -0.50], [-0.30, -0.55], [-0.45, -0.45], [-0.55, -0.30], [-0.60, 0.05], [-0.65, -0.20], [-0.40, 0.72],
  [-0.30, 0.78], [-0.38, -0.68], [-0.25, -0.72],
  [0.13, 0.30], [0.20, 0.48], [0.30, 0.52], [0.42, 0.45], [0.50, 0.25], [0.55, 0.00], [0.50, -0.28], [0.38, -0.42],
  [0.22, -0.42], [0.13, -0.28], [0.25, 0.65], [0.35, 0.70], [0.60, 0.15], [0.58, -0.15], [0.20, -0.55], [0.30, -0.60]
]
const haloH = [
  [-0.50, 0.30], [-0.44, 0.42], [-0.36, 0.45], [-0.27, 0.45], [-0.18, 0.40], [-0.14, 0.30], [-0.12, -0.05], [-0.13, -0.25],
  [-0.20, -0.42], [-0.30, -0.45], [-0.40, -0.42], [-0.48, -0.30], [-0.53, -0.05], [-0.58, 0.15], [-0.35, 0.60], [-0.25, 0.62],
  [-0.45, 0.60], [-0.33, -0.60], [-0.22, -0.58], [-0.45, -0.55], [-0.62, -0.10], [-0.25, -0.85], [-0.40, -0.80],
  [0.14, 0.30], [0.20, 0.40], [0.28, 0.42], [0.36, 0.40], [0.45, 0.28], [0.50, 0.12], [0.52, -0.10], [0.46, -0.25],
  [0.36, -0.32], [0.25, -0.34], [0.16, -0.28], [0.20, 0.55], [0.30, 0.58], [0.42, 0.50], [0.55, 0.30], [0.60, 0.00],
  [0.55, -0.35], [0.30, -0.50], [0.18, -0.45], [0.42, -0.45], [0.65, -0.20]
]
const coreH = [
  [[-0.48, 0.0], [-0.45, 0.18], [-0.4, 0.3], [-0.32, 0.36], [-0.24, 0.35], [-0.16, 0.25], [-0.13, 0.05], [-0.14, -0.15],
    [-0.18, -0.3], [-0.28, -0.36], [-0.38, -0.32], [-0.45, -0.18]],
  [[0.14, 0.0], [0.16, 0.2], [0.22, 0.3], [0.3, 0.32], [0.38, 0.25], [0.44, 0.1], [0.45, -0.08], [0.4, -0.2], [0.3, -0.26],
    [0.2, -0.24], [0.15, -0.12]]
]
const fitH = [[-2.46, -0.07], [0, -0.01], [1.78, 0.04]]
const ciH = [[-2.46, -0.17, 0.04], [-1.2, -0.07, 0.01], [0, -0.03, 0.01], [1.0, -0.02, 0.07], [1.78, -0.03, 0.12]]

// ---- layout (pixel boxes, axis extents, gaps) ----
const FONT = '"Liberation Sans", Arial, Helvetica, sans-serif'
const panels = [
  { box: [147, 181, 836, 535], x: [-2.69, 1.99], y: [-2.05, 6.3], xt: xTicksWide, xm: xMinorWide, yt: yTicksA, ym: yMinorA, gx: 43, gy: 36, letter: [14, -6], stat: [183, 229], pts: pointsA.concat(haloA), core: coreA, fit: fitA, ci: ciA },
  { box: [1309, 181, 815, 535], x: [-1.53, 1.93], y: [-4.0, 7.4], xt: xTicksNarrow, xm: xMinorNarrow, yt: yTicksB, ym: yMinorB, gx: 43, gy: 53, yDec: true, letter: [1143, -6], stat: [1344, 229], pts: pointsB.concat(haloB), core: coreB, fit: fitB, ci: ciB },
  { box: [2472, 146, 847, 534], x: [-2.67, 1.99], y: [-3.73, 9.38], xt: xTicksWide, xm: xMinorWide, yt: yTicksC, ym: yMinorC, gx: 55, gy: 64, letter: [2274, 4], stat: [2513, 193], pts: pointsC.concat(haloC), core: coreC, fit: fitC, ci: ciC },
  { box: [3674, 146, 836, 534], x: [-2.67, 1.99], y: [-3.93, 5.38], xt: xTicksWide, xm: xMinorWide, yt: yTicksD, ym: yMinorD, gx: 55, gy: 43, letter: [3512, 4], stat: [3712, 193], pts: pointsD.concat(haloD), core: coreD, fit: fitD, ci: ciD },
  { box: [132, 1011, 836, 533], x: [-2.67, 1.99], y: [-1.27, 2.1], xt: xTicksWide, xm: xMinorWide, yt: yTicksE, ym: yMinorE, gx: 38, gy: 40, letter: [12, 851], stat: [169, 1058], pts: pointsE.concat(haloE), core: coreE, fit: fitE, ci: ciE },
  { box: [1296, 1015, 843, 535], x: [-1.52, 1.93], y: [-1.56, 6.75], xt: xTicksNarrow, xm: xMinorNarrow, yt: yTicksF, ym: yMinorF, gx: 39, gy: 55, letter: [1150, 851], stat: [1334, 1063], pts: pointsF.concat(haloF), core: coreF, fit: fitF, ci: ciF },
  { box: [2464, 999, 837, 532], x: [-2.68, 1.99], y: [-2.08, 5.5], xt: xTicksWide, xm: xMinorWide, yt: yTicksG, ym: yMinorG, gx: 49, gy: 41, letter: [2307, 851], stat: [2503, 1046], pts: pointsG.concat(haloG), core: coreG, fit: fitG, ci: ciG },
  { box: [3701, 985, 837, 534], x: [-2.67, 1.99], y: [-3.7, 4.21], xt: xTicksWide, xm: xMinorWide, yt: yTicksH, ym: yMinorH, gx: 47, gy: 62, letter: [3561, 851], stat: [3739, 1033], pts: pointsH.concat(haloH), core: coreH, fit: fitH, ci: ciH }
]

const grids = []
const xAxes = []
const yAxes = []
const series = []
const titles = []

function majorAxis(i, range, ticks, name, gap, pos, fmt) {
  return {
    type: 'value', gridIndex: i, min: range[0], max: range[1], position: pos,
    name: name, nameLocation: 'middle', nameGap: gap,
    nameTextStyle: { fontSize: 31, color: '#000', fontFamily: FONT },
    axisLine: { show: false },
    axisTick: { show: true, length: 6, lineStyle: { color: '#333', width: 2 }, customValues: ticks },
    axisLabel: { customValues: ticks, fontSize: 25, color: '#4D4D4D', fontFamily: FONT, margin: 7, formatter: fmt },
    splitLine: { show: true, lineStyle: { color: '#FFFFFF', width: 3 } },
    minorTick: { show: false }, minorSplitLine: { show: false }
  }
}
function minorAxis(i, range, ticks, pos) {
  return {
    type: 'value', gridIndex: i, min: range[0], max: range[1], position: pos,
    axisLine: { show: false },
    axisTick: { show: false, customValues: ticks },
    axisLabel: { show: false, customValues: ticks },
    splitLine: { show: true, lineStyle: { color: '#F7F7F7', width: 1.5 } }
  }
}

panels.forEach((p, i) => {
  grids.push({ left: p.box[0], top: p.box[1], width: p.box[2], height: p.box[3], show: true, backgroundColor: '#EBEBEB', borderWidth: 0 })
  xAxes.push(majorAxis(i, p.x, p.xt, xTitle, p.gx, 'bottom', v => String(v)))
  xAxes.push(minorAxis(i, p.x, p.xm, 'top'))
  yAxes.push(majorAxis(i, p.y, p.yt, yTitles[i], p.gy, 'left', v => (p.yDec ? v.toFixed(1) : String(v))))
  yAxes.push(minorAxis(i, p.y, p.ym, 'right'))

  const ax = { xAxisIndex: i * 2, yAxisIndex: i * 2 }
  // overplotted centre of the point clouds, outlined in data space
  series.push(Object.assign({
    type: 'custom', silent: true, z: 2, clip: true,
    data: p.core.map(() => [0, 0]),
    renderItem: (params, api) => ({
      type: 'polygon',
      shape: { points: p.core[params.dataIndex].map(c => api.coord(c)) },
      style: { fill: '#000', stroke: '#000', lineWidth: 6, lineJoin: 'round' }
    })
  }, ax))
  series.push(Object.assign({
    type: 'scatter', z: 3, symbolSize: 7, itemStyle: { color: '#000' }, silent: true,
    data: p.pts
  }, ax))
  // confidence band
  const band = p.ci.map(r => [r[0], r[2]]).concat(p.ci.slice().reverse().map(r => [r[0], r[1]]))
  series.push(Object.assign({
    type: 'custom', silent: true, z: 4, clip: true,
    data: [[0, 0]],
    renderItem: (params, api) => ({
      type: 'polygon',
      shape: { points: band.map(c => api.coord(c)) },
      style: { fill: 'rgba(153,153,153,0.4)' }
    })
  }, ax))
  series.push(Object.assign({
    type: 'line', z: 5, smooth: 0.4, showSymbol: false, silent: true,
    lineStyle: { color: '#3366FF', width: 4 },
    data: p.fit
  }, ax))

  titles.push({
    text: panelLetters[i], left: p.letter[0], top: p.letter[1], padding: 0,
    textStyle: { fontSize: 76, fontWeight: 'bold', color: '#000', fontFamily: FONT }
  })
  titles.push({
    text: '{i|R} = ' + statR[i] + ', {i|p} = ' + statP[i],
    left: p.stat[0], top: p.stat[1] - 17, padding: 0,
    textStyle: {
      fontSize: 30, fontWeight: 'normal', color: '#000', fontFamily: FONT,
      rich: { i: { fontStyle: 'italic', fontSize: 30, color: '#000', fontFamily: FONT } }
    }
  })
})

const chart = echarts.init(document.getElementById('chart'))
chart.setOption({
  animation: false,
  backgroundColor: '#FFFFFF',
  title: titles,
  grid: grids,
  xAxis: xAxes,
  yAxis: yAxes,
  series: series
})
</script>
</body>
</html>
